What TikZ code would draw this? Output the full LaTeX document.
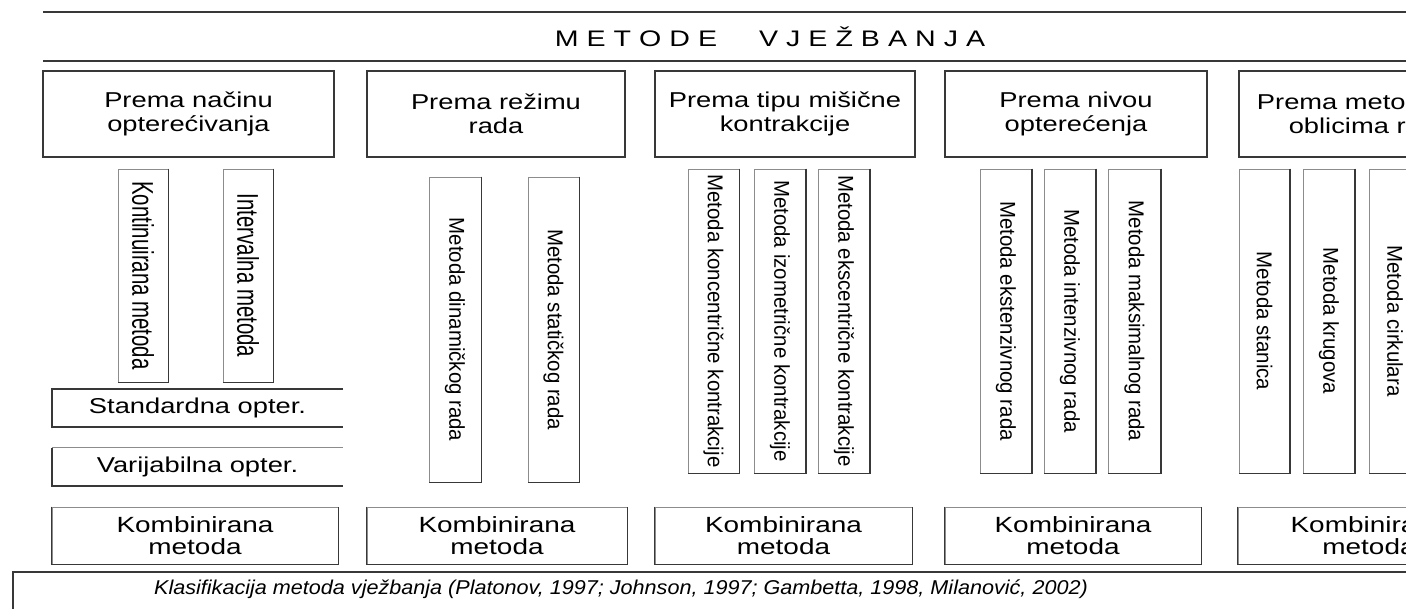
\documentclass[tikz,border=0pt]{standalone}
\usepackage{fontspec}
\setmainfont{Liberation Sans}
\newfontfamily\hfont[FakeStretch=1.27]{Liberation Sans}
\newfontfamily\vbigfont[FakeStretch=0.68]{Liberation Sans}
\newfontfamily\vfont[FakeStretch=0.95]{Liberation Sans}
\newfontfamily\capfont[FakeStretch=1.08]{Liberation Sans}
\newcommand\ttgap{\kern8pt}
\tikzset{
  dk/.style={draw=black!78, line width=1.8pt},
  lt/.style={draw=black!45, line width=0.9pt},
  hbox/.style={dk, rectangle, inner sep=0pt, align=center, minimum height=86pt,
    font=\hfont\fontsize{21.5}{24}\selectfont},
  kbox/.style={lt, rectangle, inner sep=0pt, align=center, minimum height=57pt,
    font=\hfont\fontsize{22}{22}\selectfont},
  vbox/.style={lt, rectangle, inner sep=0pt},
  vtxt/.style={rotate=-90, inner sep=0pt, font=\vfont\fontsize{21.5}{22}\selectfont},
  vbigtxt/.style={rotate=-90, inner sep=0pt, font=\vbigfont\fontsize{30}{30}\selectfont},
  obox/.style={rectangle, inner sep=0pt, minimum width=291pt, minimum height=38pt,
    font=\hfont\fontsize{21.5}{22}\selectfont},
}
\begin{document}
\begin{tikzpicture}[x=1pt, y=-1pt]
\useasboundingbox (0,0) rectangle (1406,608);
\fill[white] (0,0) rectangle (1406,608);
\clip (0,0) rectangle (1406,608);

% title band
\coordinate (tl) at (43,12);
\coordinate (tr) at (1420,12);
\coordinate (bl) at (43,61);
\coordinate (br) at (1420,61);
\draw[dk] (tl) -- (tr);
\draw[dk] (bl) -- (br);
\node[font=\hfont\fontsize{22.5}{24}\selectfont, inner sep=0pt] (title) at (770,37)
  {M\ttgap E\ttgap T\ttgap O\ttgap D\ttgap E\hspace{42pt}V\ttgap J\ttgap E\ttgap Ž\ttgap B\ttgap A\ttgap N\ttgap J\ttgap A};

% headers
\node[hbox, minimum width=291pt] (h1) at (188.5,114) {Prema načinu\\opterećivanja};
\node[hbox, minimum width=258pt] (h2) at (496,114) {Prema režimu\\rada};
\node[hbox, minimum width=260pt] (h3) at (785,114) {Prema tipu mišične\\kontrakcije};
\node[hbox, minimum width=262pt] (h4) at (1076,114) {Prema nivou\\opterećenja};
\node[hbox, minimum width=262pt] (h5) at (1370,114) {Prema metodičkim\\oblicima rada};

% column 1 vertical boxes
\node[vbox, minimum width=50pt, minimum height=213pt] (a1) at (143,275.5) {};
\node[vbigtxt] (a1t) at (a1) {Kontinuirana metoda};
\node[vbox, minimum width=50pt, minimum height=213pt] (a2) at (248,275.5) {};
\node[vbigtxt] (a2t) at (a2) {Intervalna metoda};

% column 1 horizontal boxes (open on the right)
\node[obox] (s1) at (197.5,408) {Standardna opter.};
\node[obox] (s2) at (197.5,467) {Varijabilna opter.};

% column 2
\node[vbox, minimum width=52pt, minimum height=305pt] (b1) at (455,329.5) {};
\node[vtxt] (b1t) at (b1) {Metoda dinamičkog rada};
\node[vbox, minimum width=51pt, minimum height=305pt] (b2) at (553.5,329.5) {};
\node[vtxt] (b2t) at (b2) {Metoda statičkog rada};

% column 3
\node[vbox, minimum width=51pt, minimum height=304pt] (c1) at (713.5,321) {};
\node[vtxt] (c1t) at (c1) {Metoda koncentrične kontrakcije};
\node[vbox, minimum width=51pt, minimum height=304pt] (c2) at (780,321) {};
\node[vtxt] (c2t) at (c2) {Metoda izometrične kontrakcije};
\node[vbox, minimum width=51pt, minimum height=304pt] (c3) at (844,321) {};
\node[vtxt] (c3t) at (c3) {Metoda ekscentrične kontrakcije};

% column 4
\node[vbox, minimum width=51pt, minimum height=304pt] (d1) at (1006,321) {};
\node[vtxt] (d1t) at (d1) {Metoda ekstenzivnog rada};
\node[vbox, minimum width=51pt, minimum height=304pt] (d2) at (1070,321) {};
\node[vtxt] (d2t) at (d2) {Metoda intenzivnog rada};
\node[vbox, minimum width=52pt, minimum height=304pt] (d3) at (1134.5,321) {};
\node[vtxt] (d3t) at (d3) {Metoda maksimalnog rada};

% column 5
\node[vbox, minimum width=50pt, minimum height=304pt] (e1) at (1264.5,321) {};
\node[vtxt] (e1t) at (e1) {Metoda stanica};
\node[vbox, minimum width=51pt, minimum height=304pt] (e2) at (1329,321) {};
\node[vtxt] (e2t) at (e2) {Metoda krugova};
\node[vbox, minimum width=51pt, minimum height=304pt] (e3) at (1395,321) {};
\node[vtxt] (e3t) at (e3) {Metoda cirkulara};

% dark right/bottom edges of vertical boxes
\foreach \n in {a1,a2,b1,b2,c1,c2,c3,d1,d2,d3,e1,e2,e3}
  \draw[dk] (\n.north east) -- (\n.south east) -- (\n.south west);

% open boxes
\draw[dk] (s1.north east) -- (s1.north west) -- (s1.south west) -- (s1.south east);
\draw[lt] (s2.north east) -- (s2.north west);
\draw[dk] (s2.north west) -- (s2.south west) -- (s2.south east);

% bottom row
\node[kbox, minimum width=286pt] (k1) at (195,535.5) {Kombinirana\\metoda};
\node[kbox, minimum width=260pt] (k2) at (497,535.5) {Kombinirana\\metoda};
\node[kbox, minimum width=257pt] (k3) at (783.5,535.5) {Kombinirana\\metoda};
\node[kbox, minimum width=256pt] (k4) at (1073,535.5) {Kombinirana\\metoda};
\node[kbox, minimum width=262pt] (k5) at (1369,535.5) {Kombinirana\\metoda};
\foreach \n in {k1,k2,k3,k4,k5}
  \draw[dk] (\n.north west) -- (\n.south west) -- (\n.south east) -- (\n.north east);

% caption
\coordinate (cbl) at (13,640);
\coordinate (ctl) at (13,572);
\coordinate (ctr) at (1420,572);
\draw[dk] (cbl) -- (ctl) -- (ctr);
\node[font=\capfont\itshape\fontsize{20}{22}\selectfont, inner sep=0pt] (cap) at (621,589)
  {Klasifikacija metoda vježbanja (Platonov, 1997; Johnson, 1997; Gambetta, 1998, Milanović, 2002)};
\end{tikzpicture}
\end{document}
